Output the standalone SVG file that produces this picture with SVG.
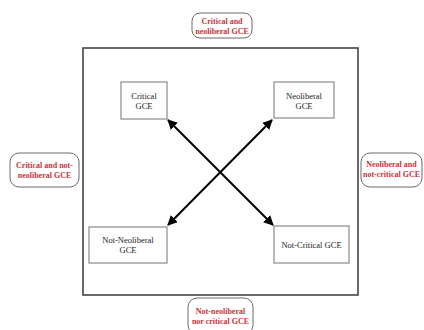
<svg xmlns="http://www.w3.org/2000/svg" width="424" height="330" viewBox="0 0 424 330">
<style>
.node{fill:#fff;stroke:#8a8a8a;stroke-width:1.2}
.outer{fill:#fff;stroke:#6a6a6a;stroke-width:1}
.t{font-family:"Liberation Serif","Times New Roman",serif;font-size:8.5px;fill:#222;text-anchor:middle}
.r{font-family:"Liberation Serif","Times New Roman",serif;font-size:8px;font-weight:bold;fill:#c8333a;text-anchor:middle}
.arr{stroke:#000;stroke-width:2;fill:none;marker-start:url(#ah);marker-end:url(#ah)}
</style>
<defs>
<marker id="ah" viewBox="0 0 10 10" refX="9" refY="5" markerWidth="5" markerHeight="5" orient="auto-start-reverse" markerUnits="strokeWidth">
<path d="M0,0 L10,5 L0,10 z" fill="#000"/>
</marker>
</defs>
<rect width="424" height="330" fill="#fff"/>
<rect id="frame" x="83" y="48" width="275" height="247" fill="none" stroke="#444" stroke-width="1.6"/>
<g id="connectors">
<line class="arr" x1="168" y1="120" x2="273" y2="225"/>
<line class="arr" x1="272" y1="120" x2="168" y2="225"/>
</g>
<g id="critical"><rect class="node" x="121" y="82" width="46" height="37"/><text class="t" x="144" y="99">Critical</text><text class="t" x="144" y="109">GCE</text></g>
<g id="neoliberal"><rect class="node" x="274" y="82" width="60" height="36"/><text class="t" x="304" y="99">Neoliberal</text><text class="t" x="304" y="109">GCE</text></g>
<g id="not-neoliberal"><rect class="node" x="89" y="227" width="78" height="36"/><text class="t" x="128" y="243">Not-Neoliberal</text><text class="t" x="128" y="253">GCE</text></g>
<g id="not-critical"><rect class="node" x="274" y="226" width="75" height="37"/><text class="t" x="311.5" y="248">Not-Critical GCE</text></g>
<g id="top-label"><rect class="outer" x="192" y="13" width="60" height="25" rx="8"/><text class="r" x="222" y="24">Critical and</text><text class="r" x="222" y="33.5">neoliberal GCE</text></g>
<g id="left-label"><rect class="outer" x="10" y="153" width="69" height="34" rx="9"/><text class="r" x="44.5" y="168">Critical and not-</text><text class="r" x="44.5" y="178">neoliberal GCE</text></g>
<g id="right-label"><rect class="outer" x="361" y="153" width="61" height="34" rx="9"/><text class="r" x="391.5" y="167">Neoliberal and</text><text class="r" x="391.5" y="177">not-critical GCE</text></g>
<g id="bottom-label"><rect class="outer" x="188" y="298" width="65" height="36" rx="9"/><text class="r" x="220.5" y="314">Not-neoliberal</text><text class="r" x="220.5" y="324">nor critical GCE</text></g>
</svg>
